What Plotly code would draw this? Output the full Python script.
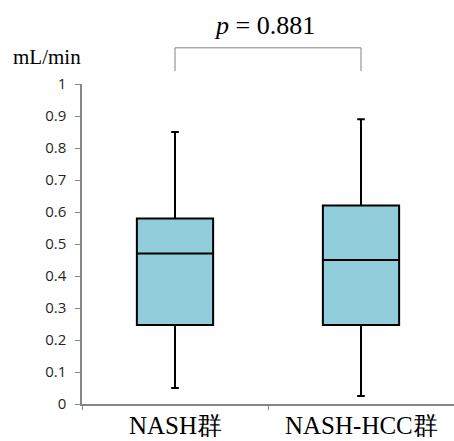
import plotly.graph_objects as go

categories = ["NASH群", "NASH-HCC群"]
lower = [0.05, 0.025]
q1 = [0.247, 0.247]
median = [0.47, 0.45]
q3 = [0.58, 0.62]
upper = [0.85, 0.89]
y_ticks = [0, 0.1, 0.2, 0.3, 0.4, 0.5, 0.6, 0.7, 0.8, 0.9, 1]
y_tick_text = ["0", "0.1", "0.2", "0.3", "0.4", "0.5", "0.6", "0.7", "0.8", "0.9", "1"]
p_text = "<i>p</i> = 0.881"
unit_text = "mL/min"

SERIF = "Liberation Serif, Times New Roman, serif"

fig = go.Figure()
fig.add_trace(go.Box(
    x=categories,
    q1=q1, median=median, q3=q3,
    lowerfence=lower, upperfence=upper,
    fillcolor="#92CDDC",
    line=dict(color="#000000", width=2),
    width=0.41,
    whiskerwidth=0.1,
    boxpoints=False,
    hoverinfo="skip",
))

fig.update_layout(
    width=454, height=441,
    margin=dict(l=82, r=0, t=84, b=37),
    paper_bgcolor="white", plot_bgcolor="white",
    showlegend=False,
    xaxis=dict(
        type="category", range=[-0.5, 1.5], automargin=False,
        showline=True, linecolor="#868686", linewidth=1.5,
        ticks="outside", tickson="boundaries", ticklen=4, tickcolor="#868686",
        showticklabels=False,
        showgrid=False, zeroline=False,
    ),
    yaxis=dict(
        range=[0, 1], tickvals=y_ticks, ticktext=y_tick_text, automargin=False,
        showline=True, linecolor="#868686", linewidth=1.5,
        ticks="outside", ticklen=5, tickcolor="#868686",
        tickfont=dict(family="Open Sans", size=15, color="#262626"),
        ticklabelstandoff=6,
        showgrid=False, zeroline=False,
    ),
)

for cat in categories:
    fig.add_annotation(text=cat, xref="x", yref="paper", x=cat, y=-0.066,
                       xanchor="center", yanchor="middle", showarrow=False,
                       font=dict(family=SERIF, size=25, color="#000000"))

fig.add_annotation(text=unit_text, xref="paper", yref="paper", x=-0.19, y=1.084,
                   xanchor="left", yanchor="middle", showarrow=False,
                   font=dict(family=SERIF, size=21, color="#000000"))
fig.add_annotation(text=p_text, xref="paper", yref="paper", x=0.49, y=1.182,
                   xanchor="center", yanchor="middle", showarrow=False,
                   font=dict(family=SERIF, size=26, color="#000000"))

# bracket
fig.add_shape(type="line", xref="x", yref="paper", x0=categories[0], x1=categories[1], y0=1.113, y1=1.113,
              line=dict(color="#808080", width=1))
fig.add_shape(type="line", xref="x", yref="paper", x0=categories[0], x1=categories[0], y0=1.04, y1=1.113,
              line=dict(color="#808080", width=1))
fig.add_shape(type="line", xref="x", yref="paper", x0=categories[1], x1=categories[1], y0=1.04, y1=1.113,
              line=dict(color="#808080", width=1))

fig.write_html("out.html", config={"displayModeBar": False},
               post_script="document.body.style.margin='0';")
